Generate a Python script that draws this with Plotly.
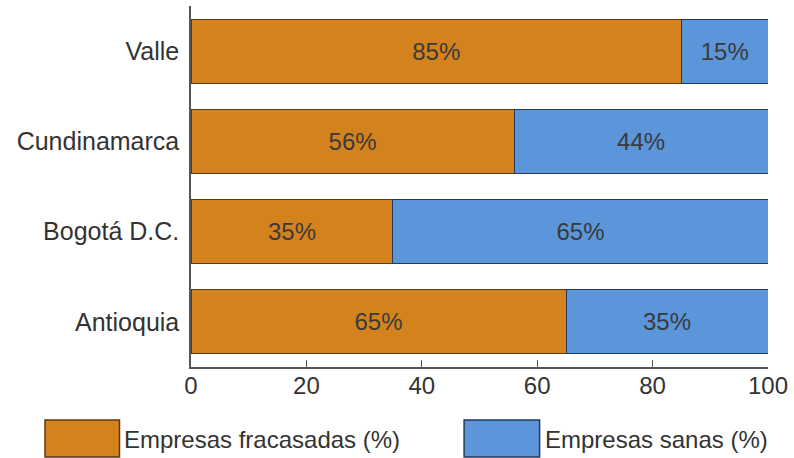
import plotly.graph_objects as go

categories = ["Antioquia", "Bogotá D.C.", "Cundinamarca", "Valle"]
fracasadas = [65, 35, 56, 85]
sanas = [35, 65, 44, 15]
series_names = ["Empresas fracasadas (%)", "Empresas sanas (%)"]
tick_vals = [0, 20, 40, 60, 80, 100]

orange = "#D4821E"
blue = "#5B96DB"
font_family = "Liberation Sans, Arial, sans-serif"
fs = 24

fig = go.Figure()
fig.add_trace(go.Bar(
    y=categories, x=fracasadas, orientation="h", name=series_names[0],
    marker=dict(color=orange, line=dict(color="#5a3a10", width=1)),
    text=[f"{v}%" for v in fracasadas], textposition="inside",
    insidetextanchor="middle", textfont=dict(color="#3a3a3a", size=fs, family=font_family),
))
fig.add_trace(go.Bar(
    y=categories, x=sanas, orientation="h", name=series_names[1],
    marker=dict(color=blue, line=dict(color="#233a5a", width=1)),
    text=[f"{v}%" for v in sanas], textposition="inside",
    insidetextanchor="middle", textfont=dict(color="#3a3a3a", size=fs, family=font_family),
))

ml, mr, mt, mb = 191, 22, 6, 91
fig.update_layout(
    barmode="stack",
    bargap=0.29,
    uniformtext=dict(minsize=fs, mode="show"),
    width=794, height=458,
    margin=dict(l=ml, r=mr, t=mt, b=mb),
    plot_bgcolor="white", paper_bgcolor="white",
    showlegend=False,
    font=dict(family=font_family, size=fs, color="#333333"),
    xaxis=dict(
        range=[0, 100], tickvals=tick_vals, ticks="inside", ticklen=7,
        tickcolor="#555555", showline=True, linecolor="#555555", linewidth=1.5,
        showgrid=False, zeroline=False, tickfont=dict(size=fs, color="#333333"),
        ticklabelstandoff=-4,
    ),
    yaxis=dict(
        categoryorder="array", categoryarray=categories,
        showline=True, linecolor="#555555", linewidth=1.5, showgrid=False,
        ticks="", tickfont=dict(size=25, color="#333333"), ticklabelstandoff=5,
    ),
)

# custom legend with large boxes (paper coordinates)
plot_w = 794 - ml - mr
plot_h = 458 - mt - mb
def px_to_paper_x(px):
    return (px - ml) / plot_w
def px_to_paper_y(py):
    return (458 - mb - py) / plot_h

legend_items = [(44, 119, orange, "#5a3a10", series_names[0]),
                (466, 542, blue, "#233a5a", series_names[1])]
for x0, x1, fill, edge, label in legend_items:
    fig.add_shape(type="rect", xref="paper", yref="paper",
                  x0=px_to_paper_x(x0), x1=px_to_paper_x(x1),
                  y0=px_to_paper_y(457), y1=px_to_paper_y(420),
                  fillcolor=fill, line=dict(color=edge, width=1.5))
    fig.add_annotation(xref="paper", yref="paper", x=px_to_paper_x(x1 + 3),
                       y=px_to_paper_y(439), text=label, showarrow=False,
                       xanchor="left", yanchor="middle",
                       font=dict(size=fs, color="#333333", family=font_family))

fig.write_html("out.html")
